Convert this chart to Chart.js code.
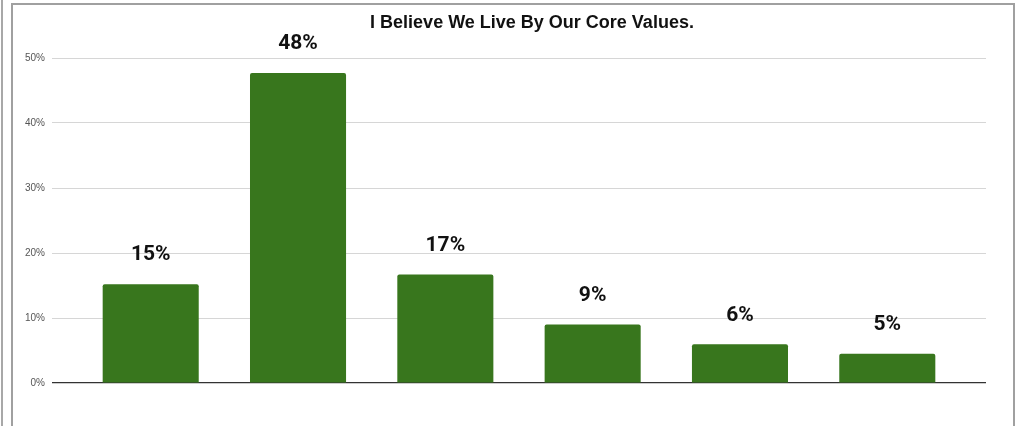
<!DOCTYPE html>
<html>
<head>
<meta charset="utf-8">
<script src="https://cdn.jsdelivr.net/npm/chart.js@4"></script>
<style>
    html, body { margin: 0; padding: 0; background: #fff; overflow: hidden; }
    .frame { position: absolute; left: 11px; top: 3px; width: 1000px; height: 440px; border: 2px solid #a0a0a0; border-bottom: none; }
    .edge { position: absolute; left: 1px; top: 0; width: 2px; height: 426px; background: #a8a8a8; }
    #chart { position: absolute; left: 0; top: 0; }
</style>
</head>
<body>
<div class="edge"></div>
<div class="frame"></div>
<canvas id="chart" width="1015" height="426"></canvas>
<script>
// Данные графика
const title = 'I Believe We Live By Our Core Values.';
const categories = ['1', '2', '3', '4', '5', '6'];
const values = [15.2, 47.7, 16.7, 9.0, 5.95, 4.5];
const valueLabels = ['15%', '48%', '17%', '9%', '6%', '5%'];
const yTicks = [0, 10, 20, 30, 40, 50];

const barColor = '#38761d';

// Подписи над столбцами и заголовок
const labelsPlugin = {
    id: 'labels',
    afterDatasetsDraw(chart) {
        const ctx = chart.ctx;
        const meta = chart.getDatasetMeta(0);
        ctx.save();
        ctx.fillStyle = '#111';
        ctx.textAlign = 'center';
        ctx.textBaseline = 'middle';
        ctx.font = 'bold 21px Roboto, sans-serif';
        meta.data.forEach((bar, i) => {
            ctx.fillText(valueLabels[i], bar.x, bar.y - 29);
        });
        ctx.font = 'bold 18px "Liberation Sans", Arial, sans-serif';
        ctx.fillText(title, 532, 23);
        ctx.restore();
    }
};

const ctx = document.getElementById('chart').getContext('2d');
new Chart(ctx, {
    type: 'bar',
    data: {
        datasets: [{
            label: title,
            data: values.map((v, i) => ({ x: i, y: v })),
            backgroundColor: barColor,
            borderRadius: 2,
            borderSkipped: 'bottom',
            barPercentage: 0.652,
            categoryPercentage: 1
        }]
    },
    options: {
        responsive: false,
        animation: false,
        layout: { padding: { left: 12, right: 29, top: 58, bottom: 43 } },
        plugins: { legend: { display: false }, tooltip: { enabled: false }, title: { display: false } },
        scales: {
            x: {
                type: 'linear',
                min: -0.67,
                max: 5.67,
                offset: false,
                display: false,
                afterBuildTicks: s => { s.ticks = categories.map((c, i) => ({ value: i })); }
            },
            y: {
                min: 0,
                max: 50,
                afterFit: s => { s.width = 40; },
                afterBuildTicks: s => { s.ticks = yTicks.map(v => ({ value: v })); },
                border: { display: false },
                grid: {
                    drawTicks: false,
                    color: c => (c.tick && c.tick.value === 0) ? '#333' : '#d6d6d6',
                    lineWidth: c => (c.tick && c.tick.value === 0) ? 1.2 : 1
                },
                ticks: {
                    padding: 7,
                    color: '#555',
                    font: { size: 10, family: '"Liberation Sans", Arial, sans-serif' },
                    callback: v => v + '%'
                }
            }
        }
    },
    plugins: [labelsPlugin]
});
</script>
</body>
</html>
